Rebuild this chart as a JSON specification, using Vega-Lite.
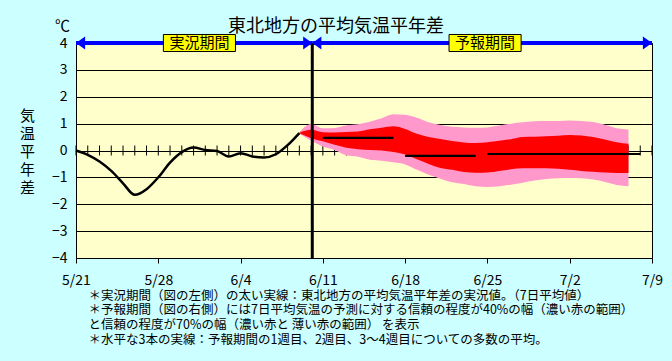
{
  "$schema": "https://vega.github.io/schema/vega-lite/v6.json",
  "autosize": {"type": "none"},
  "width": 576,
  "height": 215,
  "padding": {"left": 76, "top": 43, "right": 20, "bottom": 103},
  "background": "#CCFFFF",
  "config": {
    "font": "Noto Sans CJK JP",
    "view": {"fill": "#FFFFCC", "stroke": "black", "strokeWidth": 1},
    "axisY": {
      "tickCount": 10,
      "grid": true,
      "gridColor": "black",
      "gridOpacity": 1,
      "gridWidth": 1,
      "ticks": false,
      "domain": false,
      "labelFontSize": 14,
      "labelPadding": 9,
      "labelColor": "black",
      "labelOverlap": false,
      "titleAngle": 0,
      "titleFontSize": 15,
      "titleFontWeight": "normal",
      "titleLineHeight": 18,
      "titleX": -49,
      "titleY": 65,
      "titleAlign": "center",
      "titleBaseline": "top",
      "titleColor": "black"
    }
  },
  "title": {
    "text": "東北地方の平均気温平年差",
    "fontSize": 18,
    "fontWeight": "normal",
    "color": "black",
    "anchor": "middle",
    "frame": "group",
    "dx": -28,
    "offset": -17
  },
  "datasets": {
    "days": [
      {"day": 0}, {"day": 1}, {"day": 2}, {"day": 3}, {"day": 4}, {"day": 5}, {"day": 6}, {"day": 7}, {"day": 8}, {"day": 9},
      {"day": 10}, {"day": 11}, {"day": 12}, {"day": 13}, {"day": 14}, {"day": 15}, {"day": 16}, {"day": 17}, {"day": 18}, {"day": 19},
      {"day": 20}, {"day": 21}, {"day": 22}, {"day": 23}, {"day": 24}, {"day": 25}, {"day": 26}, {"day": 27}, {"day": 28}, {"day": 29},
      {"day": 30}, {"day": 31}, {"day": 32}, {"day": 33}, {"day": 34}, {"day": 35}, {"day": 36}, {"day": 37}, {"day": 38}, {"day": 39},
      {"day": 40}, {"day": 41}, {"day": 42}, {"day": 43}, {"day": 44}, {"day": 45}, {"day": 46}, {"day": 47}, {"day": 48}, {"day": 49}
    ],
    "obs": [
      {"day": 0, "anomaly": 0.0},
      {"day": 1, "anomaly": -0.16},
      {"day": 2, "anomaly": -0.41},
      {"day": 3, "anomaly": -0.76},
      {"day": 4, "anomaly": -1.22},
      {"day": 5, "anomaly": -1.65},
      {"day": 6, "anomaly": -1.44},
      {"day": 7, "anomaly": -1.0},
      {"day": 8, "anomaly": -0.45},
      {"day": 9, "anomaly": -0.06},
      {"day": 10, "anomaly": 0.11},
      {"day": 11, "anomaly": 0.02},
      {"day": 12, "anomaly": -0.02},
      {"day": 13, "anomaly": -0.22},
      {"day": 14, "anomaly": -0.1},
      {"day": 15, "anomaly": -0.22},
      {"day": 16, "anomaly": -0.26},
      {"day": 17, "anomaly": -0.14},
      {"day": 18, "anomaly": 0.2},
      {"day": 19, "anomaly": 0.65}
    ],
    "band": [
      {"day": 19, "lo70": 0.62, "lo40": 0.64, "hi40": 0.66, "hi70": 0.68},
      {"day": 20, "lo70": 0.36, "lo40": 0.46, "hi40": 0.77, "hi70": 0.99},
      {"day": 21, "lo70": 0.15, "lo40": 0.34, "hi40": 0.68, "hi70": 0.83},
      {"day": 22, "lo70": 0.02, "lo40": 0.21, "hi40": 0.67, "hi70": 0.84},
      {"day": 23, "lo70": -0.18, "lo40": 0.1, "hi40": 0.69, "hi70": 0.94},
      {"day": 24, "lo70": -0.23, "lo40": 0.05, "hi40": 0.71, "hi70": 0.98},
      {"day": 25, "lo70": -0.34, "lo40": 0.02, "hi40": 0.79, "hi70": 1.07},
      {"day": 26, "lo70": -0.38, "lo40": 0.0, "hi40": 0.85, "hi70": 1.2},
      {"day": 27, "lo70": -0.44, "lo40": -0.06, "hi40": 0.9, "hi70": 1.35},
      {"day": 28, "lo70": -0.52, "lo40": -0.15, "hi40": 0.8, "hi70": 1.33},
      {"day": 29, "lo70": -0.72, "lo40": -0.33, "hi40": 0.62, "hi70": 1.22},
      {"day": 30, "lo70": -0.9, "lo40": -0.5, "hi40": 0.5, "hi70": 1.05},
      {"day": 31, "lo70": -1.05, "lo40": -0.65, "hi40": 0.43, "hi70": 0.95},
      {"day": 32, "lo70": -1.18, "lo40": -0.72, "hi40": 0.35, "hi70": 0.88},
      {"day": 33, "lo70": -1.25, "lo40": -0.8, "hi40": 0.3, "hi70": 0.86},
      {"day": 34, "lo70": -1.33, "lo40": -0.83, "hi40": 0.28, "hi70": 0.85},
      {"day": 35, "lo70": -1.36, "lo40": -0.82, "hi40": 0.31, "hi70": 0.86},
      {"day": 36, "lo70": -1.33, "lo40": -0.76, "hi40": 0.36, "hi70": 0.93},
      {"day": 37, "lo70": -1.27, "lo40": -0.7, "hi40": 0.42, "hi70": 1.0},
      {"day": 38, "lo70": -1.2, "lo40": -0.66, "hi40": 0.5, "hi70": 1.05},
      {"day": 39, "lo70": -1.12, "lo40": -0.66, "hi40": 0.51, "hi70": 1.09},
      {"day": 40, "lo70": -1.06, "lo40": -0.66, "hi40": 0.53, "hi70": 1.1},
      {"day": 41, "lo70": -1.03, "lo40": -0.68, "hi40": 0.55, "hi70": 1.1},
      {"day": 42, "lo70": -1.02, "lo40": -0.72, "hi40": 0.58, "hi70": 1.12},
      {"day": 43, "lo70": -1.03, "lo40": -0.76, "hi40": 0.56, "hi70": 1.1},
      {"day": 44, "lo70": -1.08, "lo40": -0.79, "hi40": 0.5, "hi70": 1.06},
      {"day": 45, "lo70": -1.17, "lo40": -0.82, "hi40": 0.41, "hi70": 0.96},
      {"day": 46, "lo70": -1.28, "lo40": -0.84, "hi40": 0.31, "hi70": 0.83},
      {"day": 47, "lo70": -1.33, "lo40": -0.84, "hi40": 0.25, "hi70": 0.78}
    ],
    "means": [
      {"week": "1週目", "start": 21, "end": 27, "value": 0.47},
      {"week": "2週目", "start": 28, "end": 34, "value": -0.2},
      {"week": "3～4週目", "start": 35, "end": 48, "value": -0.13}
    ],
    "periods": [
      {"name": "実況期間", "start": 0, "end": 20.1, "mid": 10.5},
      {"name": "予報期間", "start": 20.1, "end": 49, "mid": 34.8}
    ],
    "unit": [{"label": "℃"}]
  },
  "layer": [
    {
      "data": {"name": "days"},
      "mark": {"type": "tick", "orient": "vertical", "color": "black", "size": 10, "thickness": 1, "opacity": 1},
      "encoding": {
        "x": {
          "field": "day",
          "type": "quantitative",
          "scale": {"domain": [0, 49], "nice": false, "zero": false},
          "axis": {
            "values": [0, 7, 14, 21, 28, 35, 42, 49],
            "tickCount": 20,
            "labelExpr": "['5/21','5/28','6/4','6/11','6/18','6/25','7/2','7/9'][round(datum.value/7)]",
            "grid": false,
            "domain": false,
            "ticks": true,
            "tickSize": 5,
            "tickColor": "black",
            "labelFontSize": 14,
            "labelPadding": 10,
            "labelColor": "black",
            "labelFlush": false,
            "labelOverlap": false,
            "title": [
              "＊実況期間（図の左側）の太い実線：東北地方の平均気温平年差の実況値。（7日平均値）",
              "＊予報期間（図の右側）には7日平均気温の予測に対する信頼の程度が40%の幅（濃い赤の範囲）",
              "\u00a0\u00a0\u00a0と信頼の程度が70%の幅（濃い赤と 薄い赤の範囲） を表示",
              "＊水平な3本の実線：予報期間の1週目、2週目、3～4週目についての多数の平均。"
            ],
            "titleAlign": "left",
            "titleAnchor": "start",
            "titleX": 12,
            "titleY": 31,
            "titleBaseline": "top",
            "titleFontSize": 12.5,
            "titleFontWeight": "normal",
            "titleLineHeight": 14.8,
            "titleColor": "black"
          }
        },
        "y": {
          "datum": 0,
          "type": "quantitative",
          "scale": {"domain": [-4, 4], "nice": false, "zero": false},
          "axis": {
            "values": [-4, -3, -2, -1, 0, 1, 2, 3, 4],
            "tickCount": 10,
            "title": ["気", "温", "平", "年", "差"]
          }
        }
      }
    },
    {
      "data": {"name": "band"},
      "mark": {"type": "area", "color": "#FF99CC", "opacity": 1, "interpolate": "monotone"},
      "encoding": {
        "x": {"field": "day", "type": "quantitative"},
        "y": {"field": "lo70", "type": "quantitative"},
        "y2": {"field": "hi70"}
      }
    },
    {
      "data": {"name": "band"},
      "mark": {"type": "area", "color": "#FF0000", "opacity": 1, "interpolate": "monotone"},
      "encoding": {
        "x": {"field": "day", "type": "quantitative"},
        "y": {"field": "lo40", "type": "quantitative"},
        "y2": {"field": "hi40"}
      }
    },
    {
      "data": {"name": "obs"},
      "mark": {"type": "line", "color": "black", "strokeWidth": 2.5, "interpolate": "monotone"},
      "encoding": {
        "x": {"field": "day", "type": "quantitative"},
        "y": {"field": "anomaly", "type": "quantitative"}
      }
    },
    {
      "data": {"name": "means"},
      "mark": {"type": "rule", "color": "black", "strokeWidth": 2.2},
      "encoding": {
        "x": {"field": "start", "type": "quantitative"},
        "x2": {"field": "end"},
        "y": {"field": "value", "type": "quantitative"}
      }
    },
    {
      "data": {"name": "periods"},
      "mark": {"type": "rule", "color": "#0000FF", "strokeWidth": 4},
      "encoding": {
        "x": {"field": "start", "type": "quantitative"},
        "x2": {"field": "end"},
        "y": {"datum": 4, "type": "quantitative"}
      }
    },
    {
      "data": {"name": "periods"},
      "mark": {"type": "rule", "color": "black", "strokeWidth": 3},
      "transform": [{"filter": "datum.start > 0"}],
      "encoding": {
        "x": {"field": "start", "type": "quantitative"}
      }
    },
    {
      "data": {"name": "periods"},
      "mark": {"type": "point", "shape": "M0,0L1.4,-1L1.4,1Z", "size": 169, "filled": true, "color": "#0000FF", "opacity": 1, "strokeWidth": 0},
      "encoding": {
        "x": {"field": "start", "type": "quantitative"},
        "y": {"datum": 4, "type": "quantitative"}
      }
    },
    {
      "data": {"name": "periods"},
      "mark": {"type": "point", "shape": "M0,0L-1.4,-1L-1.4,1Z", "size": 169, "filled": true, "color": "#0000FF", "opacity": 1, "strokeWidth": 0},
      "encoding": {
        "x": {"field": "end", "type": "quantitative"},
        "y": {"datum": 4, "type": "quantitative"}
      }
    },
    {
      "data": {"name": "periods"},
      "mark": {"type": "point", "shape": "M-2.12,-0.5H2.12V0.5H-2.12Z", "size": 1156, "filled": true, "fill": "#FFFF00", "stroke": "black", "strokeWidth": 1, "opacity": 1},
      "encoding": {
        "x": {"field": "mid", "type": "quantitative"},
        "y": {"datum": 4, "type": "quantitative"}
      }
    },
    {
      "data": {"name": "periods"},
      "mark": {"type": "text", "fontSize": 15, "color": "black", "baseline": "middle", "align": "center"},
      "encoding": {
        "x": {"field": "mid", "type": "quantitative"},
        "y": {"datum": 4, "type": "quantitative"},
        "text": {"field": "name"}
      }
    },
    {
      "data": {"name": "unit"},
      "mark": {"type": "text", "fontSize": 15, "color": "black", "baseline": "middle", "align": "center"},
      "encoding": {
        "x": {"datum": -1.15, "type": "quantitative"},
        "y": {"datum": 4.65, "type": "quantitative"},
        "text": {"field": "label"}
      }
    }
  ]
}
